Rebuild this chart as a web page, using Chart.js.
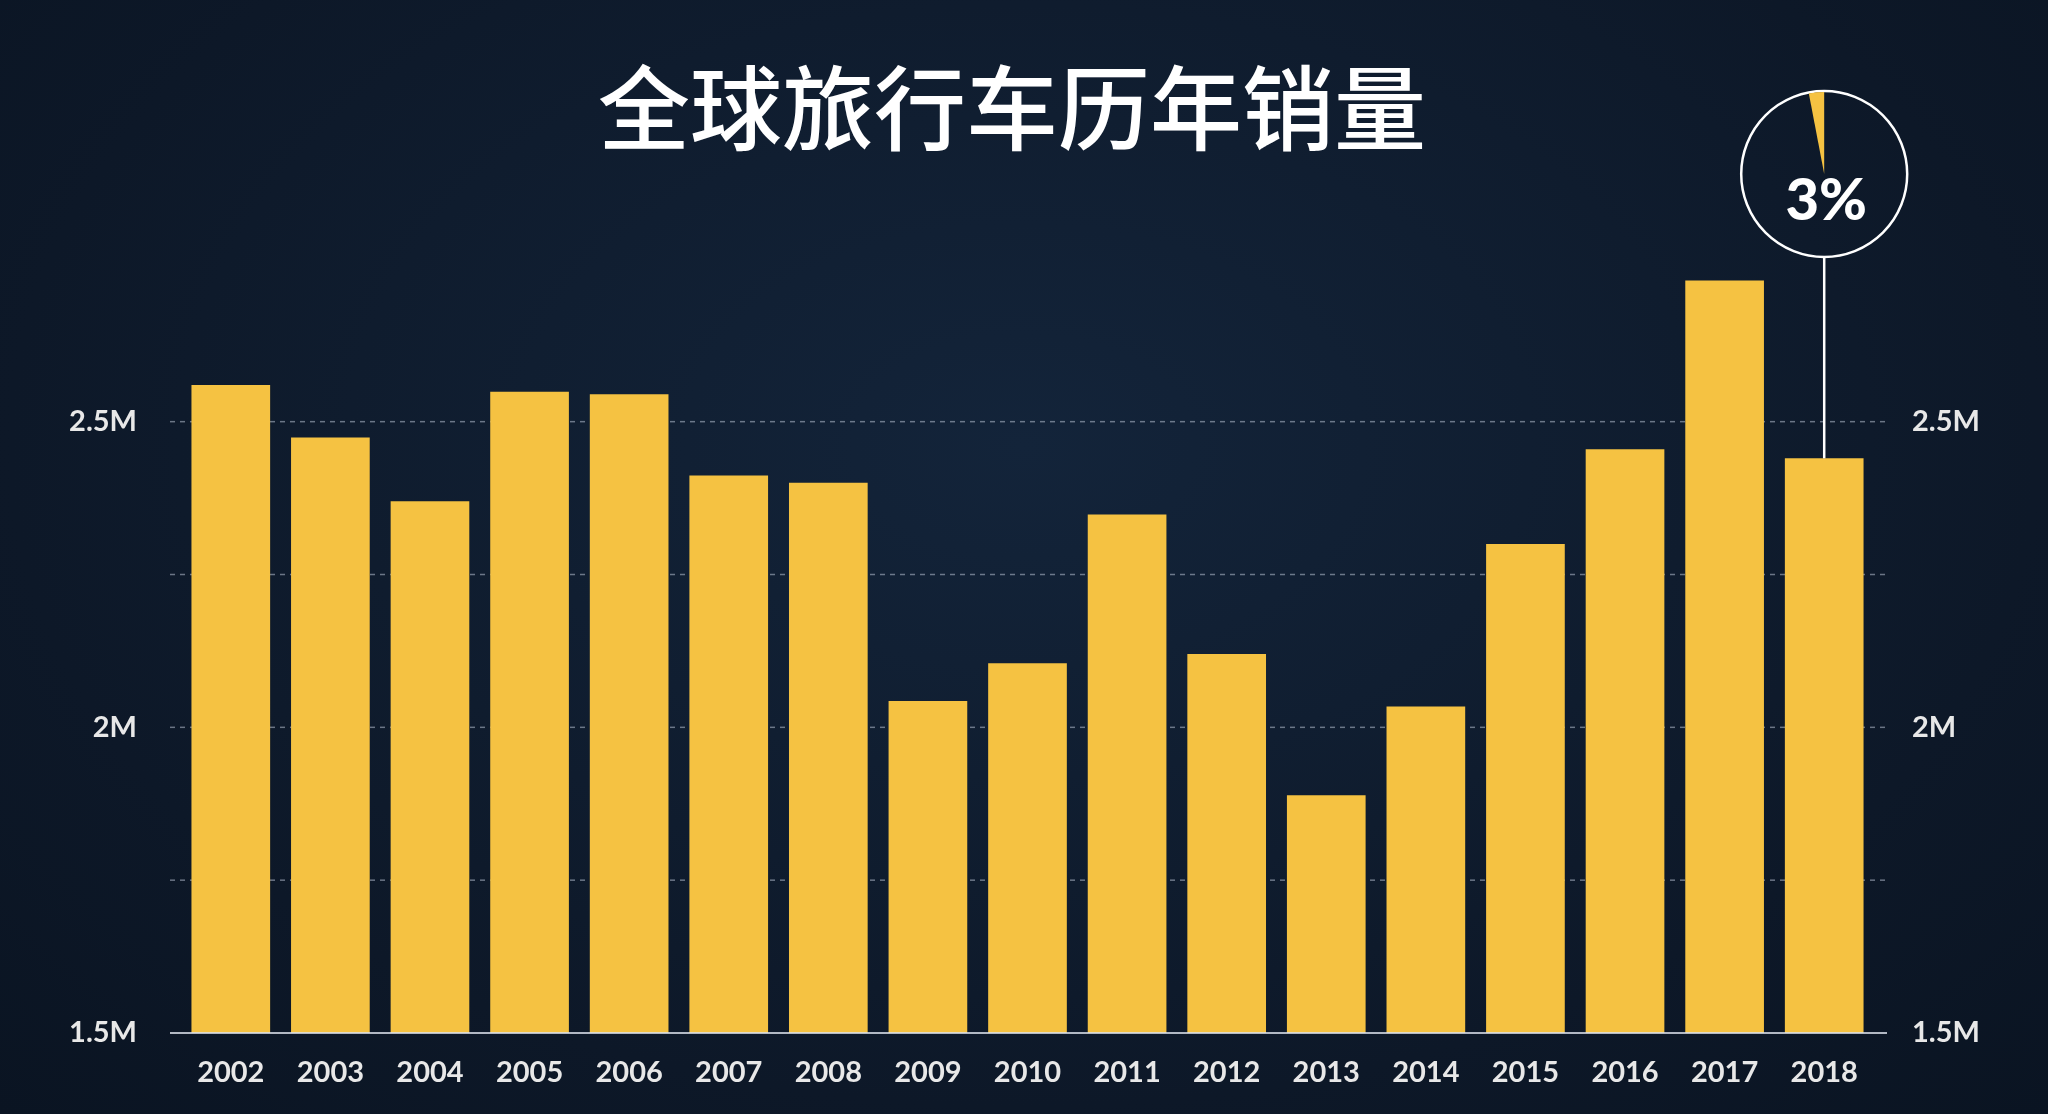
<!DOCTYPE html>
<html><head><meta charset="utf-8">
<script src="https://cdn.jsdelivr.net/npm/chart.js@4"></script>
<style>html,body{margin:0;padding:0;background:#0e1a2c;}#w{width:2048px;height:1114px;background:radial-gradient(ellipse at 50% 40%,#13243a 0%,#0d1828 70%,#0a1422 100%);}</style>
</head><body><div id="w"><canvas id="c" width="2048" height="1114"></canvas></div>
<script>
const title = '全球旅行车历年销量';
const years = ['2002','2003','2004','2005','2006','2007','2008','2009','2010','2011','2012','2013','2014','2015','2016','2017','2018'];
const sales = [2.56,2.474,2.37,2.549,2.545,2.412,2.40,2.043,2.105,2.348,2.12,1.889,2.034,2.30,2.455,2.731,2.44];
const gridValues = [1.75,2,2.25,2.5];
const tickLabels = {1.5:'1.5M',2:'2M',2.5:'2.5M'};
const callout = '3%';
const calloutShare = 0.03;

const tickFont = {family:'Lato, "Open Sans", sans-serif', size:29, weight:'bold'};
function tickCb(v){ return tickLabels[v] !== undefined ? tickLabels[v] : ''; }

const deco = {
  id:'deco',
  beforeDatasetsDraw(chart){
    const c = chart.ctx, y = chart.scales.y;
    c.save();
    c.strokeStyle='rgba(200,210,225,0.5)'; c.lineWidth=1.5; c.setLineDash([5,5]);
    gridValues.forEach(v=>{ const py=y.getPixelForValue(v); c.beginPath(); c.moveTo(170,py); c.lineTo(1887,py); c.stroke(); });
    c.restore();
  },
  afterDraw(chart){
    const c = chart.ctx, y = chart.scales.y, x = chart.scales.x;
    c.save();
    c.fillStyle='#ffffff';
    c.font='500 92px "Noto Sans CJK SC", sans-serif';
    c.textAlign='center'; c.textBaseline='middle';
    c.fillText(title, 1012, 108);
    c.strokeStyle='rgba(220,225,235,0.8)'; c.lineWidth=2;
    c.beginPath(); c.moveTo(170, y.getPixelForValue(1.5)); c.lineTo(1887, y.getPixelForValue(1.5)); c.stroke();
    const i = sales.length-1;
    const cx = x.getPixelForValue(i), cy = 174, r = 83;
    const top = y.getPixelForValue(sales[i]);
    c.strokeStyle='#ffffff'; c.lineWidth=2.5;
    c.beginPath(); c.arc(cx,cy,r,0,Math.PI*2); c.stroke();
    c.beginPath(); c.moveTo(cx,cy+r); c.lineTo(cx,top); c.stroke();
    c.fillStyle='#f5c242';
    c.beginPath(); c.moveTo(cx,cy);
    c.arc(cx,cy,r-1,-Math.PI/2-Math.PI*2*calloutShare,-Math.PI/2); c.closePath(); c.fill();
    c.fillStyle='#ffffff';
    c.font='900 58px Lato, sans-serif';
    c.fillText(callout, cx+2, cy+27);
    c.restore();
  }
};

new Chart(document.getElementById('c'), {
  type:'bar',
  data:{labels:years, datasets:[{data:sales, backgroundColor:'#f5c242', barPercentage:0.79, categoryPercentage:1}]},
  options:{
    responsive:false, animation:false,
    layout:{padding:{top:116,bottom:0,left:0,right:0}},
    plugins:{legend:{display:false}, tooltip:{enabled:false}},
    scales:{
      x:{grid:{display:false}, border:{display:false},
         ticks:{color:'#e8e8e8', font:tickFont, padding:14, maxRotation:0},
         afterFit(s){ s.height = 81; }},
      y:{position:'left', min:1.5, max:3.0, border:{display:false},
         grid:{display:false},
         ticks:{stepSize:0.25, callback:tickCb, color:'#e8e8e8', font:tickFont, padding:36},
         afterFit(s){ s.width = 181; }},
      y2:{position:'right', min:1.5, max:3.0, border:{display:false},
         grid:{display:false},
         ticks:{stepSize:0.25, callback:tickCb, color:'#e8e8e8', font:tickFont, padding:30},
         afterFit(s){ s.width = 174; }}
    }
  },
  plugins:[deco]
});
</script>
</body></html>
